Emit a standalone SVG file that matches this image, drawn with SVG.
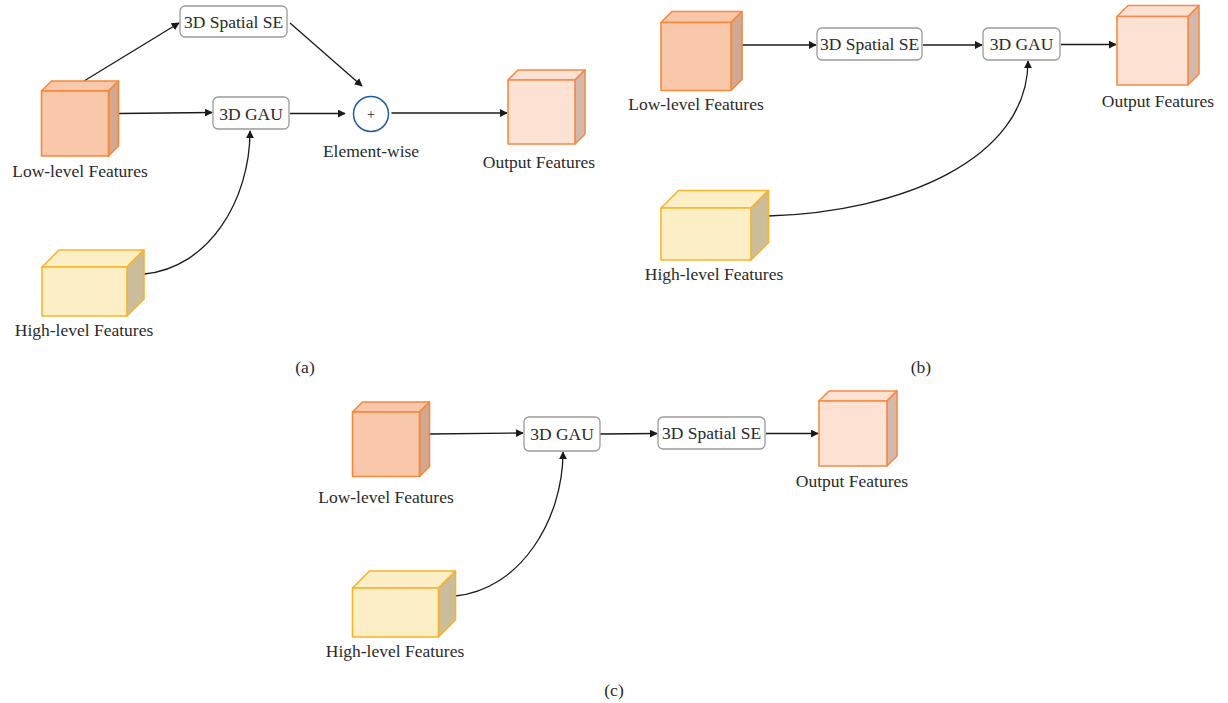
<svg xmlns="http://www.w3.org/2000/svg" width="1228" height="703" viewBox="0 0 1228 703">
  <defs>
    <marker id="arrow" viewBox="0 0 10 10" refX="9" refY="5" markerWidth="8" markerHeight="8" markerUnits="userSpaceOnUse" orient="auto">
      <path d="M0,0 L10,5 L0,10 z" fill="#1a1a1a"/>
    </marker>
    <style>
      text { font-family: "Liberation Serif", "DejaVu Serif", serif; font-size: 17.5px; fill: #2a2a2a; text-anchor: middle; }
      .box { fill: #ffffff; stroke: #9a9a9a; stroke-width: 1.3; }
      .edge { fill: none; stroke: #1a1a1a; stroke-width: 1.3; marker-end: url(#arrow); }
      .low .face { fill: #f9c8aa; stroke: #f4883c; stroke-width: 1.6; stroke-linejoin: round; }
      .low .side { fill: #d4a790; stroke: #f4883c; stroke-width: 1.6; stroke-linejoin: round; }
      .out .face { fill: #fde2d3; stroke: #f58b47; stroke-width: 1.6; stroke-linejoin: round; }
      .out .side { fill: #d2b9ab; stroke: #f58b47; stroke-width: 1.6; stroke-linejoin: round; }
      .high .face { fill: #fdefc5; stroke: #f8b42c; stroke-width: 1.6; stroke-linejoin: round; }
      .high .side { fill: #cbbd9a; stroke: #f8b42c; stroke-width: 1.6; stroke-linejoin: round; }
      .sum { fill: #ffffff; stroke: #1f5d9c; stroke-width: 1.5; }
    </style>
  </defs>
  <rect width="1228" height="703" fill="#ffffff"/>

  <!-- panel (a) -->
  <g id="a-connectors">
    <path class="edge" d="M84,81 L179,23"/>
    <path class="edge" d="M290,23 L362,86"/>
    <path class="edge" d="M119,113.5 L212,112.5"/>
    <path class="edge" d="M290,113.5 L345,113.5"/>
    <path class="edge" d="M391.5,113 L507,113"/>
    <path class="edge" d="M144,274 C209,268 250,200 250,131"/>
  </g>
  <g id="a-low" class="low">
    <polygon class="face" points="41.5,91 51.5,81 118.5,81 108.5,91"/>
    <polygon class="side" points="108.5,91 118.5,81 118.5,146 108.5,156"/>
    <rect class="face" x="41.5" y="91" width="67" height="65"/>
    <text x="80" y="177">Low-level Features</text>
  </g>
  <g id="a-se">
    <rect class="box" x="180" y="6" width="107" height="31" rx="5"/>
    <text x="233.5" y="27.5">3D Spatial SE</text>
  </g>
  <g id="a-gau">
    <rect class="box" x="213" y="97" width="76" height="32" rx="5"/>
    <text x="251" y="119.5">3D GAU</text>
  </g>
  <g id="a-sum">
    <circle class="sum" cx="371" cy="114" r="17.5"/>
    <text x="371" y="119" style="font-size:14px">+</text>
    <text x="371" y="157">Element-wise</text>
  </g>
  <g id="a-out" class="out">
    <polygon class="face" points="508,80 518,70 585,70 575,80"/>
    <polygon class="side" points="575,80 585,70 585,134 575,144"/>
    <rect class="face" x="508" y="80" width="67" height="64"/>
    <text x="539" y="168">Output Features</text>
  </g>
  <g id="a-high" class="high">
    <polygon class="face" points="42,267 59,250 144,250 127,267"/>
    <polygon class="side" points="127,267 144,250 144,299 127,316"/>
    <rect class="face" x="42" y="267" width="85" height="49"/>
    <text x="84" y="336">High-level Features</text>
  </g>
  <text id="label-a" x="305" y="373">(a)</text>

  <!-- panel (b) -->
  <g id="b-connectors">
    <path class="edge" d="M742,45 L816,45"/>
    <path class="edge" d="M923,45 L982,45"/>
    <path class="edge" d="M1061,44.5 L1116,44.5"/>
    <path class="edge" d="M768,216 C900,212 1028,160 1028,61"/>
  </g>
  <g id="b-low" class="low">
    <polygon class="face" points="661,22.5 672,11.5 742,11.5 731,22.5"/>
    <polygon class="side" points="731,22.5 742,11.5 742,79.5 731,90.5"/>
    <rect class="face" x="661" y="22.5" width="70" height="68"/>
    <text x="696" y="110">Low-level Features</text>
  </g>
  <g id="b-se">
    <rect class="box" x="817" y="28" width="105" height="32" rx="5"/>
    <text x="869.5" y="50">3D Spatial SE</text>
  </g>
  <g id="b-gau">
    <rect class="box" x="983" y="28" width="77" height="32" rx="5"/>
    <text x="1021.5" y="50">3D GAU</text>
  </g>
  <g id="b-out" class="out">
    <polygon class="face" points="1117,16.5 1128,5.5 1199,5.5 1188,16.5"/>
    <polygon class="side" points="1188,16.5 1199,5.5 1199,74 1188,85"/>
    <rect class="face" x="1117" y="16.5" width="71" height="68.5"/>
    <text x="1158" y="107">Output Features</text>
  </g>
  <g id="b-high" class="high">
    <polygon class="face" points="661,208 678.5,190.5 768.5,190.5 751,208"/>
    <polygon class="side" points="751,208 768.5,190.5 768.5,242.5 751,260"/>
    <rect class="face" x="661" y="208" width="90" height="52"/>
    <text x="714" y="280">High-level Features</text>
  </g>
  <text id="label-b" x="921" y="373">(b)</text>

  <!-- panel (c) -->
  <g id="c-connectors">
    <path class="edge" d="M429,434 L523,433"/>
    <path class="edge" d="M600,434 L657,433.5"/>
    <path class="edge" d="M766,433.5 L818,433.5"/>
    <path class="edge" d="M455,596 C520,590 563,520 563,452"/>
  </g>
  <g id="c-low" class="low">
    <polygon class="face" points="352.5,412 362.5,402 429.5,402 419.5,412"/>
    <polygon class="side" points="419.5,412 429.5,402 429.5,466.5 419.5,476.5"/>
    <rect class="face" x="352.5" y="412" width="67" height="64.5"/>
    <text x="386" y="503">Low-level Features</text>
  </g>
  <g id="c-gau">
    <rect class="box" x="524" y="417" width="76" height="34" rx="5"/>
    <text x="562" y="440">3D GAU</text>
  </g>
  <g id="c-se">
    <rect class="box" x="658" y="417" width="107" height="32" rx="5"/>
    <text x="711.5" y="439">3D Spatial SE</text>
  </g>
  <g id="c-out" class="out">
    <polygon class="face" points="819,401 829,391 897,391 887,401"/>
    <polygon class="side" points="887,401 897,391 897,456 887,466"/>
    <rect class="face" x="819" y="401" width="68" height="65"/>
    <text x="852" y="487">Output Features</text>
  </g>
  <g id="c-high" class="high">
    <polygon class="face" points="352.5,588 369.5,571 455.5,571 438.5,588"/>
    <polygon class="side" points="438.5,588 455.5,571 455.5,620 438.5,637"/>
    <rect class="face" x="352.5" y="588" width="86" height="49"/>
    <text x="395" y="657">High-level Features</text>
  </g>
  <text id="label-c" x="614" y="696">(c)</text>
</svg>
